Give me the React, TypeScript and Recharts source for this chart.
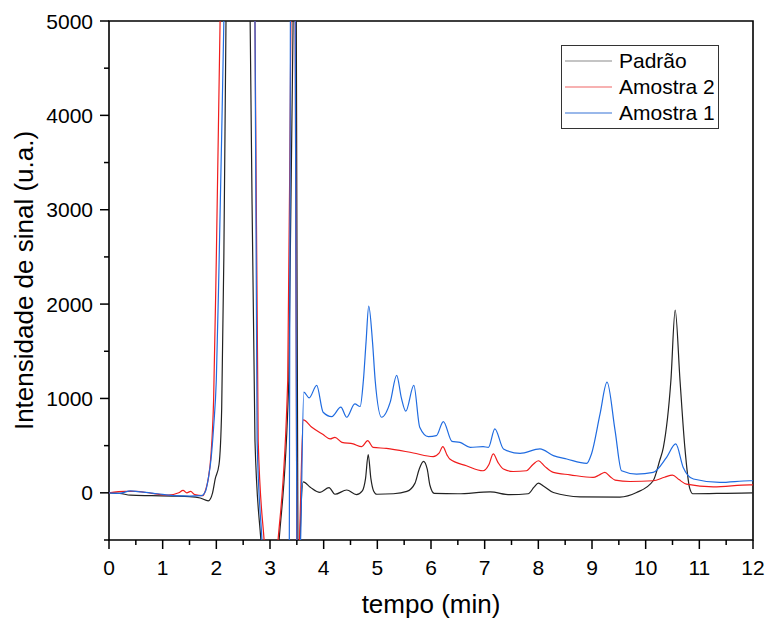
import React from "react";
import { LineChart, Line, XAxis, YAxis, Legend, ReferenceArea } from "recharts";

const FONT = '"Liberation Sans", Arial, Helvetica, sans-serif';

// tempo (min) / intensidade (u.a.)
const padraoT = [0, 0.2, 0.4, 0.8, 1.2, 1.5, 1.7, 1.85, 1.93, 1.98, 2.05, 2.1, 2.14, 2.18, 2.3, 2.5, 2.63, 2.72, 2.83, 3.0, 3.17, 3.35, 3.43, 3.46, 3.49, 3.52, 3.54, 3.56, 3.62, 3.75, 3.93, 4.1, 4.21, 4.43, 4.61, 4.72, 4.78, 4.83, 4.88, 4.93, 4.99, 5.3, 5.55, 5.7, 5.78, 5.86, 5.93, 5.98, 6.06, 6.5, 7.1, 7.47, 7.81, 7.92, 8.0, 8.1, 8.28, 8.78, 9.52, 9.83, 10.14, 10.26, 10.33, 10.47, 10.55, 10.64, 10.73, 10.82, 10.88, 11.5, 12];
const padraoV = [0, -5, -25, -30, -35, -40, -55, -85, 0, 150, 300, 900, 2500, 5000, 9000, 9000, 5000, 550, -500, -1500, -500, 1190, 5000, 7000, 5000, -500, -1000, -500, 117, 60, 5, 55, -15, 30, -20, 20, 150, 405, 150, 20, -15, -10, 15, 100, 250, 333, 250, 80, -5, -10, 10, -20, -10, 60, 103, 70, 3, -42, -45, 3, 128, 340, 482, 1190, 1936, 1190, 482, 50, -10, -5, 0];

const amostra2T = [0, 0.3, 0.5, 0.8, 1.1, 1.3, 1.38, 1.45, 1.52, 1.6, 1.75, 1.8, 1.85, 1.9, 1.95, 2.0, 2.07, 2.2, 2.5, 2.72, 2.78, 2.89, 3.0, 3.15, 3.33, 3.39, 3.43, 3.47, 3.5, 3.52, 3.55, 3.62, 3.78, 3.99, 4.12, 4.21, 4.34, 4.55, 4.71, 4.82, 4.92, 5.17, 5.67, 6.04, 6.15, 6.22, 6.3, 6.35, 6.66, 6.97, 7.08, 7.16, 7.25, 7.35, 7.53, 7.78, 7.9, 8.0, 8.12, 8.28, 8.59, 9.02, 9.14, 9.24, 9.34, 9.43, 9.71, 10.14, 10.35, 10.5, 10.62, 10.76, 11.26, 11.94, 12];
const amostra2V = [0, 15, 15, -5, -25, 0, 25, 0, 15, -20, -30, 30, 150, 400, 1000, 2500, 5000, 9000, 9000, 5000, 550, -500, -1200, -500, 1190, 5000, 7000, 5000, -500, -1000, -500, 773, 695, 617, 571, 588, 535, 518, 489, 553, 482, 471, 422, 383, 420, 489, 400, 358, 287, 234, 300, 412, 320, 252, 226, 234, 300, 340, 280, 216, 191, 163, 190, 216, 170, 135, 120, 128, 165, 188, 140, 92, 64, 85, 85];

const amostra1T = [0, 0.2, 0.4, 0.6, 0.9, 1.2, 1.5, 1.72, 1.8, 1.85, 1.9, 1.95, 2.0, 2.05, 2.1, 2.14, 2.3, 2.5, 2.72, 2.76, 2.85, 3.0, 3.34, 3.36, 3.38, 3.42, 3.47, 3.5, 3.53, 3.57, 3.63, 3.73, 3.87, 3.99, 4.15, 4.32, 4.43, 4.58, 4.68, 4.74, 4.79, 4.84, 4.91, 4.96, 5.08, 5.24, 5.36, 5.45, 5.53, 5.68, 5.79, 5.95, 6.1, 6.23, 6.39, 6.54, 6.73, 6.97, 7.07, 7.19, 7.35, 7.66, 8.03, 8.28, 8.53, 8.9, 8.99, 9.15, 9.28, 9.43, 9.55, 9.83, 10.14, 10.39, 10.56, 10.7, 10.89, 11.38, 11.94, 12];
const amostra1V = [0, -5, 20, 10, -10, -30, -35, -30, 20, 150, 350, 700, 1200, 2400, 3800, 5000, 9000, 9000, 5000, 550, -500, -2000, -1500, -500, 5000, 8000, 5000, -500, -1000, -500, 1067, 1007, 1138, 854, 808, 908, 801, 943, 915, 1191, 1600, 1979, 1600, 1191, 801, 961, 1245, 1000, 865, 1138, 695, 596, 606, 755, 546, 535, 482, 489, 482, 678, 465, 418, 465, 394, 358, 312, 412, 837, 1173, 660, 234, 199, 216, 376, 518, 269, 146, 110, 128, 128];

const xTicks = [0, 0.5, 1, 1.5, 2, 2.5, 3, 3.5, 4, 4.5, 5, 5.5, 6, 6.5, 7, 7.5, 8, 8.5, 9, 9.5, 10, 10.5, 11, 11.5, 12];
const yTicks = [-500, 0, 500, 1000, 1500, 2000, 2500, 3000, 3500, 4000, 4500, 5000];

const toRows = (t: number[], v: number[]) => t.map((x, i) => ({ t: x, v: v[i] }));

const series = [
  { name: "Padrão", data: toRows(padraoT, padraoV), color: "#222222", legend: "#8a8a8a" },
  { name: "Amostra 2", data: toRows(amostra2T, amostra2V), color: "#f01c1c", legend: "#f06464" },
  { name: "Amostra 1", data: toRows(amostra1T, amostra1V), color: "#1f6be0", legend: "#3572d6" },
];

function XTick({ x, y, payload }: any) {
  const major = Number.isInteger(payload.value);
  return (
    <g>
      <line x1={x} x2={x} y1={y} y2={y + (major ? 9 : 5)} stroke="#000" strokeWidth={1.5} />
      {major && (
        <text x={x} y={y + 35} textAnchor="middle" fontSize={21} fontFamily={FONT} fill="#000">
          {payload.value}
        </text>
      )}
    </g>
  );
}

function YTick({ x, y, payload }: any) {
  const major = payload.value % 1000 === 0;
  return (
    <g>
      <line x1={x} x2={x - (major ? 9 : 5)} y1={y} y2={y} stroke="#000" strokeWidth={1.5} />
      {major && (
        <text x={x - 16} y={y} dy="0.36em" textAnchor="end" fontSize={21} fontFamily={FONT} fill="#000">
          {payload.value}
        </text>
      )}
    </g>
  );
}

function XTitle({ viewBox }: any) {
  const vb = viewBox || { x: 109, y: 540, width: 644 };
  return (
    <text x={vb.x + vb.width / 2} y={vb.y + 73} textAnchor="middle" fontSize={26} fontFamily={FONT} fill="#000">
      tempo (min)
    </text>
  );
}

function YTitle({ viewBox }: any) {
  const vb = viewBox || { x: 0, y: 21, height: 519 };
  const cx = vb.x + 33;
  const cy = vb.y + vb.height / 2;
  return (
    <text x={cx} y={cy} transform={`rotate(-90 ${cx} ${cy})`} textAnchor="middle" fontSize={26} fontFamily={FONT} fill="#000">
      Intensidade de sinal (u.a.)
    </text>
  );
}

function LegendBox() {
  return (
    <div style={{ border: "1px solid #333", background: "#fff", padding: "2px 3px", fontFamily: FONT, fontSize: 21, lineHeight: "26px", color: "#000", textAlign: "left" }}>
      {series.map((s) => (
        <div key={s.name} style={{ display: "flex", alignItems: "center", height: 26 }}>
          <svg width={47} height={4} style={{ marginRight: 7, display: "block" }}>
            <line x1={0} x2={47} y1={2} y2={2} stroke={s.legend} strokeWidth={1.2} />
          </svg>
          <span>{s.name}</span>
        </div>
      ))}
    </div>
  );
}

export default function App() {
  return (
    <div style={{ position: "absolute", left: 0, top: 0, width: 767, height: 623, background: "#fff" }}>
      <LineChart width={767} height={623} margin={{ top: 21, right: 14, bottom: 0, left: 0 }}>
        <XAxis
          dataKey="t"
          type="number"
          domain={[0, 12]}
          ticks={xTicks}
          interval={0}
          allowDataOverflow
          axisLine={false}
          tickLine={false}
          tickSize={0}
          tickMargin={0}
          tick={<XTick />}
          height={83}
          label={<XTitle />}
        />
        <YAxis
          type="number"
          domain={[-500, 5000]}
          ticks={yTicks}
          interval={0}
          allowDataOverflow
          axisLine={false}
          tickLine={false}
          tickSize={0}
          tickMargin={0}
          tick={<YTick />}
          width={109}
          label={<YTitle />}
        />
        {series.map((s) => (
          <Line
            key={s.name}
            data={s.data}
            dataKey="v"
            name={s.name}
            type="monotone"
            stroke={s.color}
            strokeWidth={1.2}
            dot={false}
            activeDot={false}
            isAnimationActive={false}
          />
        ))}
        <ReferenceArea x1={0} x2={12} y1={-500} y2={5000} fill="none" stroke="#000" strokeWidth={1.6} />
        <Legend
          layout="horizontal"
          verticalAlign="middle"
          align="center"
          content={<LegendBox />}
          wrapperStyle={{ left: 561, top: 45, width: 158, height: "auto" }}
        />
      </LineChart>
    </div>
  );
}
